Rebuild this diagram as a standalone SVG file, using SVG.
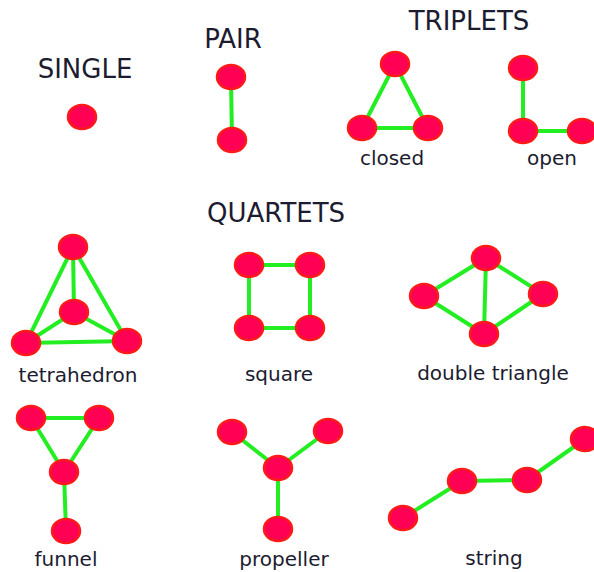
<svg xmlns="http://www.w3.org/2000/svg" width="594" height="572" viewBox="0 0 594 572">
<style>
.n{fill:#ff0055;stroke:#ff1a1a;stroke-width:2.5}
.e{stroke:#22ee22;stroke-width:4;fill:none}
.t{font-family:"DejaVu Sans",Verdana,sans-serif;font-size:26px;fill:#1c1c30;text-anchor:middle}
.l{font-family:"DejaVu Sans",Verdana,sans-serif;font-size:20px;fill:#1c1c30;text-anchor:middle}
</style>
<rect width="594" height="572" fill="#fff"/>
<g id="titles">
<text class="t" x="85" y="78">SINGLE</text>
<text class="t" x="233" y="48">PAIR</text>
<text class="t" x="469" y="30">TRIPLETS</text>
<text class="t" x="276" y="222">QUARTETS</text>
</g>
<g id="labels">
<text class="l" x="392" y="165">closed</text>
<text class="l" x="552" y="165">open</text>
<text class="l" x="78" y="382">tetrahedron</text>
<text class="l" x="279" y="381">square</text>
<text class="l" x="493" y="380">double triangle</text>
<text class="l" x="66" y="566">funnel</text>
<text class="l" x="284" y="566">propeller</text>
<text class="l" x="494" y="565">string</text>
</g>
<g id="connectors">
<line class="e" x1="231" y1="77" x2="232" y2="140"/>
<path class="e" d="M395 64L362 128L428 128Z"/>
<path class="e" d="M523 68L523 131L582 131"/>
<path class="e" d="M73 247L26 343L127 341Z M73 247L74 312 M26 343L74 312L127 341"/>
<path class="e" d="M249 265L310 265L310 328L249 328Z"/>
<path class="e" d="M486 258L424 296L484 334L543 294Z M486 258L484 334"/>
<path class="e" d="M31 418L99 418L64 472Z M64 472L66 531"/>
<path class="e" d="M232 432L278 468L328 431 M278 468L278 529"/>
<path class="e" d="M403 518L462 481L527 480L585 439"/>
</g>
<g id="single"><ellipse class="n" cx="82" cy="117" rx="14" ry="12"/></g>
<g id="pair">
<ellipse class="n" cx="231" cy="77" rx="14" ry="12"/>
<ellipse class="n" cx="232" cy="140" rx="14" ry="12"/>
</g>
<g id="closed">
<ellipse class="n" cx="395" cy="64" rx="14" ry="12"/>
<ellipse class="n" cx="362" cy="128" rx="14" ry="12"/>
<ellipse class="n" cx="428" cy="128" rx="14" ry="12"/>
</g>
<g id="open">
<ellipse class="n" cx="523" cy="68" rx="14" ry="12"/>
<ellipse class="n" cx="523" cy="131" rx="14" ry="12"/>
<ellipse class="n" cx="582" cy="131" rx="14" ry="12"/>
</g>
<g id="tetrahedron">
<ellipse class="n" cx="73" cy="247" rx="14" ry="12"/>
<ellipse class="n" cx="74" cy="312" rx="14" ry="12"/>
<ellipse class="n" cx="26" cy="343" rx="14" ry="12"/>
<ellipse class="n" cx="127" cy="341" rx="14" ry="12"/>
</g>
<g id="square">
<ellipse class="n" cx="249" cy="265" rx="14" ry="12"/>
<ellipse class="n" cx="310" cy="265" rx="14" ry="12"/>
<ellipse class="n" cx="249" cy="328" rx="14" ry="12"/>
<ellipse class="n" cx="310" cy="328" rx="14" ry="12"/>
</g>
<g id="double-triangle">
<ellipse class="n" cx="486" cy="258" rx="14" ry="12"/>
<ellipse class="n" cx="424" cy="296" rx="14" ry="12"/>
<ellipse class="n" cx="543" cy="294" rx="14" ry="12"/>
<ellipse class="n" cx="484" cy="334" rx="14" ry="12"/>
</g>
<g id="funnel">
<ellipse class="n" cx="31" cy="418" rx="14" ry="12"/>
<ellipse class="n" cx="99" cy="418" rx="14" ry="12"/>
<ellipse class="n" cx="64" cy="472" rx="14" ry="12"/>
<ellipse class="n" cx="66" cy="531" rx="14" ry="12"/>
</g>
<g id="propeller">
<ellipse class="n" cx="232" cy="432" rx="14" ry="12"/>
<ellipse class="n" cx="278" cy="468" rx="14" ry="12"/>
<ellipse class="n" cx="328" cy="431" rx="14" ry="12"/>
<ellipse class="n" cx="278" cy="529" rx="14" ry="12"/>
</g>
<g id="string">
<ellipse class="n" cx="403" cy="518" rx="14" ry="12"/>
<ellipse class="n" cx="462" cy="481" rx="14" ry="12"/>
<ellipse class="n" cx="527" cy="480" rx="14" ry="12"/>
<ellipse class="n" cx="585" cy="439" rx="14" ry="12"/>
</g>
</svg>
